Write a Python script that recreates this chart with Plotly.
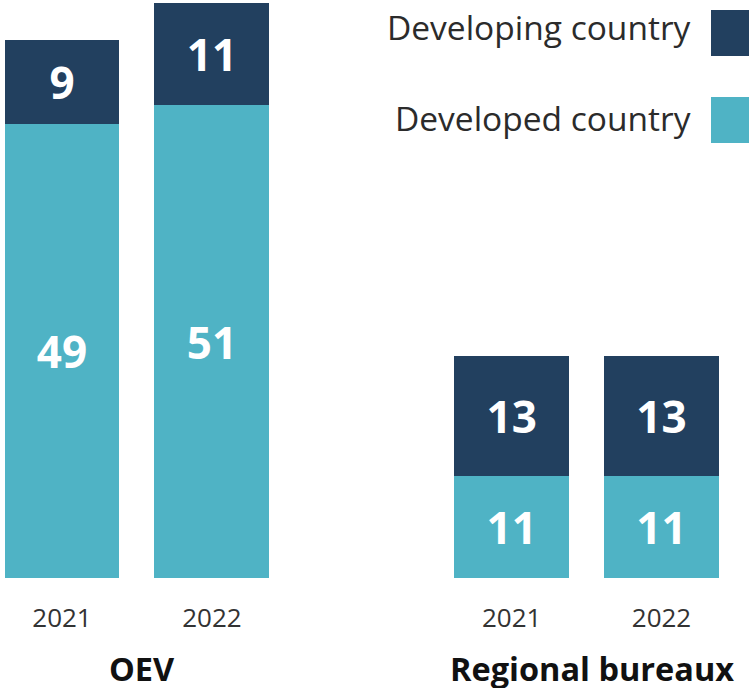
import plotly.graph_objects as go

groups = ["OEV", "Regional bureaux"]
years = ["2021", "2022"]
developed = [49, 51, 11, 11]
developing = [9, 11, 13, 13]

DARK = "#22405f"
TEAL = "#4fb3c5"
FONT = "Open Sans"

# positions: groups separated by an empty slot
xpos = []
labels = []
for gi, g in enumerate(groups):
    for yi, yr in enumerate(years):
        xpos.append(gi * 3 + yi)
        labels.append(yr)

fig = go.Figure()
fig.add_trace(go.Bar(
    x=xpos, y=developed, name="Developed country", marker=dict(color=TEAL, line=dict(width=0)),
    width=0.767, text=[str(v) for v in developed], textposition="inside",
    insidetextanchor="middle", textfont=dict(family=FONT, size=44, color="white", weight="bold"),
    showlegend=False, hoverinfo="skip"))
fig.add_trace(go.Bar(
    x=xpos, y=developing, name="Developing country", marker=dict(color=DARK, line=dict(width=0)),
    width=0.767, text=[str(v) for v in developing], textposition="inside",
    insidetextanchor="middle", textfont=dict(family=FONT, size=44, color="white", weight="bold"),
    showlegend=False, hoverinfo="skip"))

W, H = 749, 688
plot_h = 578
fig.update_layout(
    barmode="stack",
    width=W, height=H,
    margin=dict(l=0, r=0, t=0, b=H - plot_h),
    paper_bgcolor="white", plot_bgcolor="white",
    font=dict(family=FONT, color="#333333"),
    showlegend=False,
    uniformtext=dict(minsize=44, mode="show"),
)
fig.update_xaxes(
    range=[-62 / 149.875, (W - 62) / 149.875], tickvals=xpos, ticktext=labels,
    tickfont=dict(family=FONT, size=26, color="#333333"),
    showgrid=False, zeroline=False, showline=False, ticks="",
    ticklabelstandoff=22,
)
fig.update_yaxes(range=[0, plot_h / 9.27], visible=False, showgrid=False, zeroline=False)

# group labels
for gi, g in enumerate(groups):
    fig.add_annotation(
        x=gi * 3 + 0.5, xref="x", y=1 - 668 / plot_h, yref="paper",
        text="<b>%s</b>" % g, showarrow=False, xanchor="center", yanchor="middle",
        xshift=5, font=dict(family=FONT, size=32.5, color="#111111"))

# manual legend (text left of swatch)
legend_items = [("Developing country", DARK, 10, 56, 27), ("Developed country", TEAL, 97, 143, 118)]
for name, col, top, bot, tc in legend_items:
    fig.add_shape(type="rect", xref="paper", yref="paper",
                  x0=711 / W, x1=1.0, y0=1 - bot / plot_h, y1=1 - top / plot_h,
                  fillcolor=col, line=dict(width=0), layer="above")
    fig.add_annotation(
        x=693 / W, xref="paper", y=1 - tc / plot_h, yref="paper", text=name,
        showarrow=False, xanchor="right", yanchor="middle",
        font=dict(family=FONT, size=33.5, color="#2b2b2b"))

fig.write_html(
    "out.html",
    config={"displayModeBar": False, "staticPlot": True},
    post_script="document.body.style.margin='0';document.body.style.overflow='hidden';",
)
